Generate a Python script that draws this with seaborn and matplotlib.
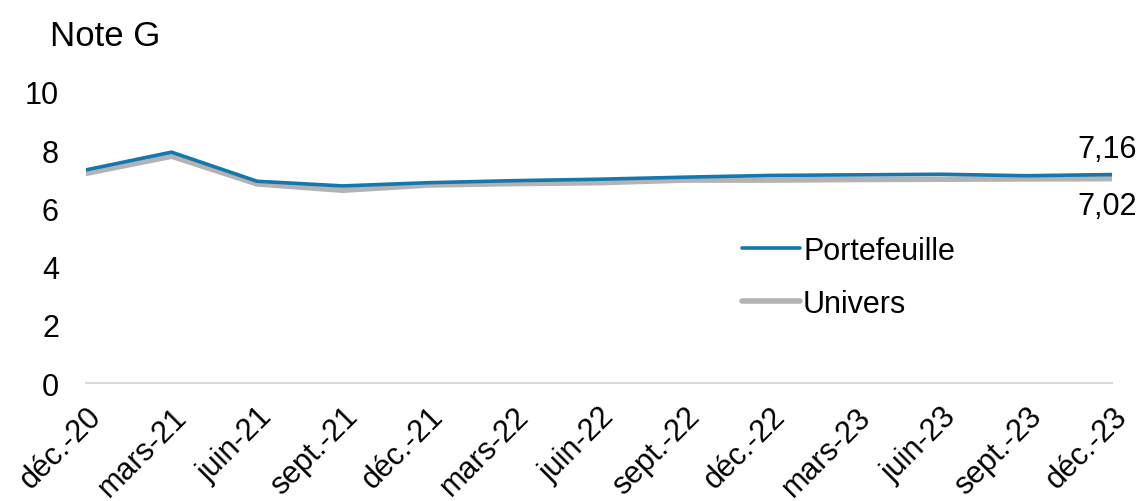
import matplotlib
matplotlib.use("Agg")
import matplotlib.pyplot as plt
import seaborn as sns
import pandas as pd
import numpy as np

categories = ["déc.-20", "mars-21", "juin-21", "sept.-21", "déc.-21", "mars-22",
              "juin-22", "sept.-22", "déc.-22", "mars-23", "juin-23", "sept.-23", "déc.-23"]
portefeuille = [7.32, 7.93, 6.93, 6.77, 6.88, 6.95, 7.00, 7.07, 7.13, 7.15, 7.17, 7.12, 7.16]
univers = [7.20, 7.79, 6.84, 6.62, 6.80, 6.85, 6.88, 6.97, 6.97, 6.99, 7.00, 7.01, 7.02]
series_names = ["Portefeuille", "Univers"]
colors = {"Portefeuille": "#1477b0", "Univers": "#b3b3b3"}

sns.set_theme(style="white")
plt.rcParams["font.family"] = ["Liberation Sans", "DejaVu Sans"]
plt.rcParams["text.color"] = "black"

df = pd.DataFrame({
    "x": list(range(len(categories))) * 2,
    "val": univers + portefeuille,
    "serie": ["Univers"] * len(categories) + ["Portefeuille"] * len(categories),
})

fig = plt.figure(figsize=(11.38, 5.02), dpi=100)
ax = fig.add_axes([0.0756, 0.235, 0.9016, 0.580])

sns.lineplot(data=df[df.serie == "Univers"], x="x", y="val", color=colors["Univers"],
             linewidth=4.0, ax=ax, label="Univers", zorder=2)
sns.lineplot(data=df[df.serie == "Portefeuille"], x="x", y="val", color=colors["Portefeuille"],
             linewidth=2.6, ax=ax, label="Portefeuille", zorder=3)

ax.set_xlim(0, len(categories) - 1)
ax.set_ylim(0, 10)
ax.set_yticks([0, 2, 4, 6, 8, 10])
ax.set_yticklabels(["0", "2", "4", "6", "8", "10"], fontsize=22)
ax.set_xticks(range(len(categories)))
ax.set_xticklabels(categories, rotation=45, ha="right", rotation_mode="anchor", fontsize=22)
ax.set_xlabel("")
ax.set_ylabel("")

for s in ["top", "right", "left"]:
    ax.spines[s].set_visible(False)
ax.spines["bottom"].set_color("#d9d9d9")
ax.spines["bottom"].set_linewidth(1.5)
ax.tick_params(axis="x", length=7, width=1.5, colors="#d9d9d9", labelcolor="black", pad=6)
ax.tick_params(axis="y", length=0, pad=19.5, labelcolor="black")

fig.text(0.044, 0.928, "Note G", fontsize=25, ha="left", va="center")

ax.annotate("7,16", (len(categories) - 1, portefeuille[-1]), xytext=(18, 18.5),
            textcoords="offset points", ha="right", va="center", fontsize=22)
ax.annotate("7,02", (len(categories) - 1, univers[-1]), xytext=(18, -19.5),
            textcoords="offset points", ha="right", va="center", fontsize=22)

handles, labels = ax.get_legend_handles_labels()
order = [labels.index(n) for n in series_names]
leg = ax.legend([handles[i] for i in order], [labels[i] for i in order],
                loc="center left", bbox_to_anchor=(0.652, 0.445), bbox_transform=fig.transFigure,
                frameon=False, borderaxespad=0, borderpad=0,
                fontsize=22, handlelength=1.9, handletextpad=0.1, labelspacing=0.75)
for line in leg.get_lines():
    line.set_solid_capstyle("round")

fig.savefig("out.png", dpi=100)
